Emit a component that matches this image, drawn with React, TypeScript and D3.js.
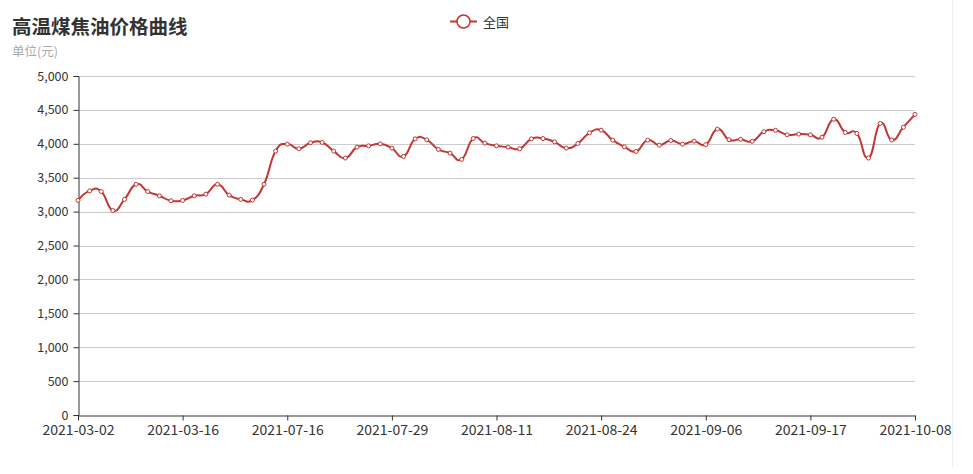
import { useEffect, useRef } from 'react'
import * as d3 from 'd3'

const DATES = [
  '2021-03-02', '2021-03-03', '2021-03-04', '2021-03-05', '2021-03-08', '2021-03-09', '2021-03-10', '2021-03-11', '2021-03-12',
  '2021-03-16', '2021-03-17', '2021-03-18', '2021-03-19', '2021-03-22', '2021-03-23', '2021-03-24', '2021-07-14', '2021-07-15',
  '2021-07-16', '2021-07-19', '2021-07-20', '2021-07-21', '2021-07-22', '2021-07-23', '2021-07-26', '2021-07-27', '2021-07-28',
  '2021-07-29', '2021-07-30', '2021-08-02', '2021-08-03', '2021-08-04', '2021-08-05', '2021-08-06', '2021-08-09', '2021-08-10',
  '2021-08-11', '2021-08-12', '2021-08-13', '2021-08-16', '2021-08-17', '2021-08-18', '2021-08-19', '2021-08-20', '2021-08-23',
  '2021-08-24', '2021-08-25', '2021-08-26', '2021-08-27', '2021-08-30', '2021-08-31', '2021-09-01', '2021-09-02', '2021-09-03',
  '2021-09-06', '2021-09-07', '2021-09-08', '2021-09-09', '2021-09-10', '2021-09-13', '2021-09-14', '2021-09-15', '2021-09-16',
  '2021-09-17', '2021-09-18', '2021-09-22', '2021-09-23', '2021-09-24', '2021-09-27', '2021-09-28', '2021-09-29', '2021-09-30',
  '2021-10-08',
]

// 全国 price, yuan
const NATIONAL = [
  3165, 3306, 3296, 3015, 3180, 3403, 3296, 3233, 3160,
  3165, 3233, 3257, 3403, 3243, 3180, 3170, 3403, 3892,
  3995, 3927, 4015, 4020, 3892, 3790, 3951, 3970, 4000,
  3936, 3814, 4073, 4059, 3917, 3863, 3770, 4078, 4010,
  3970, 3951, 3927, 4073, 4078, 4029, 3936, 4005, 4162,
  4201, 4054, 3956, 3887, 4054, 3980, 4049, 3995, 4039,
  3988, 4217, 4060, 4066, 4036, 4178, 4199, 4133, 4143,
  4133, 4097, 4362, 4168, 4153, 3790, 4300, 4056, 4245,
  4433,
]

const Y_TICKS = [0, 500, 1000, 1500, 2000, 2500, 3000, 3500, 4000, 4500, 5000]
const LABEL_EVERY = 9

const RED = '#c23531'
const FONT = '"Noto Sans CJK SC", "Microsoft YaHei", sans-serif'

export default function App() {
  const svgRef = useRef<SVGSVGElement>(null)

  useEffect(() => {
    if (!svgRef.current) return
    const svg = d3.select(svgRef.current)
    svg.selectAll('*').remove()

    const W = 973
    const H = 474
    const margin = { top: 76, right: 58, bottom: 59, left: 78 }
    const w = W - margin.left - margin.right
    const h = H - margin.top - margin.bottom

    const x = d3.scalePoint<string>().domain(DATES).range([0, w])
    const y = d3.scaleLinear().domain([0, 5000]).range([h, 0])
    const crisp = (v: number) => Math.round(v) + 0.5

    // faint container edge on the right
    svg.append('line').attr('x1', 952.5).attr('x2', 952.5).attr('y1', 0).attr('y2', 467)
      .attr('stroke', '#eeeeee')

    // Title
    svg.append('text').attr('x', 12).attr('y', 34)
      .attr('fill', '#333').attr('font-size', '19.5px').attr('font-weight', '700')
      .attr('font-family', FONT).text('高温煤焦油价格曲线')
    svg.append('text').attr('x', 12).attr('y', 56)
      .attr('fill', '#aaa').attr('font-size', '12.5px')
      .attr('font-family', FONT).text('单位(元)')

    // Legend
    const lg = svg.append('g').attr('transform', 'translate(450,21)')
    lg.append('line').attr('x1', 0).attr('x2', 27).attr('y1', 0.5).attr('y2', 0.5)
      .attr('stroke', RED).attr('stroke-width', 2)
    lg.append('circle').attr('cx', 13.5).attr('cy', 0.5).attr('r', 6.5)
      .attr('fill', '#fff').attr('stroke', RED).attr('stroke-width', 1.5)
    lg.append('text').attr('x', 33).attr('y', 5.5)
      .attr('fill', '#333').attr('font-size', '13px').attr('font-family', FONT).text('全国')

    const g = svg.append('g').attr('transform', `translate(${margin.left},${margin.top})`)

    // Grid lines
    g.append('g').selectAll('line').data(Y_TICKS.filter(d => d > 0)).join('line')
      .attr('x1', 0).attr('x2', w)
      .attr('y1', d => crisp(y(d))).attr('y2', d => crisp(y(d)))
      .attr('stroke', '#cccccc')

    // Y axis
    const yAxis = d3.axisLeft(y).tickValues(Y_TICKS).tickSize(5).tickPadding(5)
      .tickFormat(d => d3.format(',')(+d))
    const yg = g.append('g').attr('transform', 'translate(0.5,0)').call(yAxis)
    yg.select('.domain').attr('stroke', '#333')
    yg.selectAll('.tick line').attr('stroke', '#333')
    yg.selectAll('.tick text').attr('fill', '#333').attr('font-size', '12.5px').attr('font-family', FONT)

    // X axis
    const xAxis = d3.axisBottom(x)
      .tickValues(DATES.filter((_, i) => i % LABEL_EVERY === 0))
      .tickSize(5).tickSizeOuter(0).tickPadding(5)
    const xg = g.append('g').attr('transform', `translate(0,${Math.round(h) + 0.5})`).call(xAxis)
    xg.select('.domain').attr('stroke', '#333')
    xg.selectAll('.tick line').attr('stroke', '#333')
    xg.selectAll('.tick text').attr('fill', '#333').attr('font-size', '14px').attr('font-family', FONT)

    // Line
    const line = d3.line<number>()
      .x((_, i) => x(DATES[i]) ?? 0)
      .y(d => y(d))
      .curve(d3.curveCardinal.tension(-0.5))
    g.append('path').datum(NATIONAL)
      .attr('d', line).attr('fill', 'none')
      .attr('stroke', RED).attr('stroke-width', 2).attr('stroke-linejoin', 'round')

    g.append('g').selectAll('circle').data(NATIONAL).join('circle')
      .attr('cx', (_, i) => x(DATES[i]) ?? 0).attr('cy', d => y(d))
      .attr('r', 2).attr('fill', '#fff').attr('stroke', RED).attr('stroke-width', 1)
  }, [])

  return (
    <svg ref={svgRef} width={973} height={474}
      style={{ position: 'absolute', left: 0, top: 0, background: '#fff' }} />
  )
}
